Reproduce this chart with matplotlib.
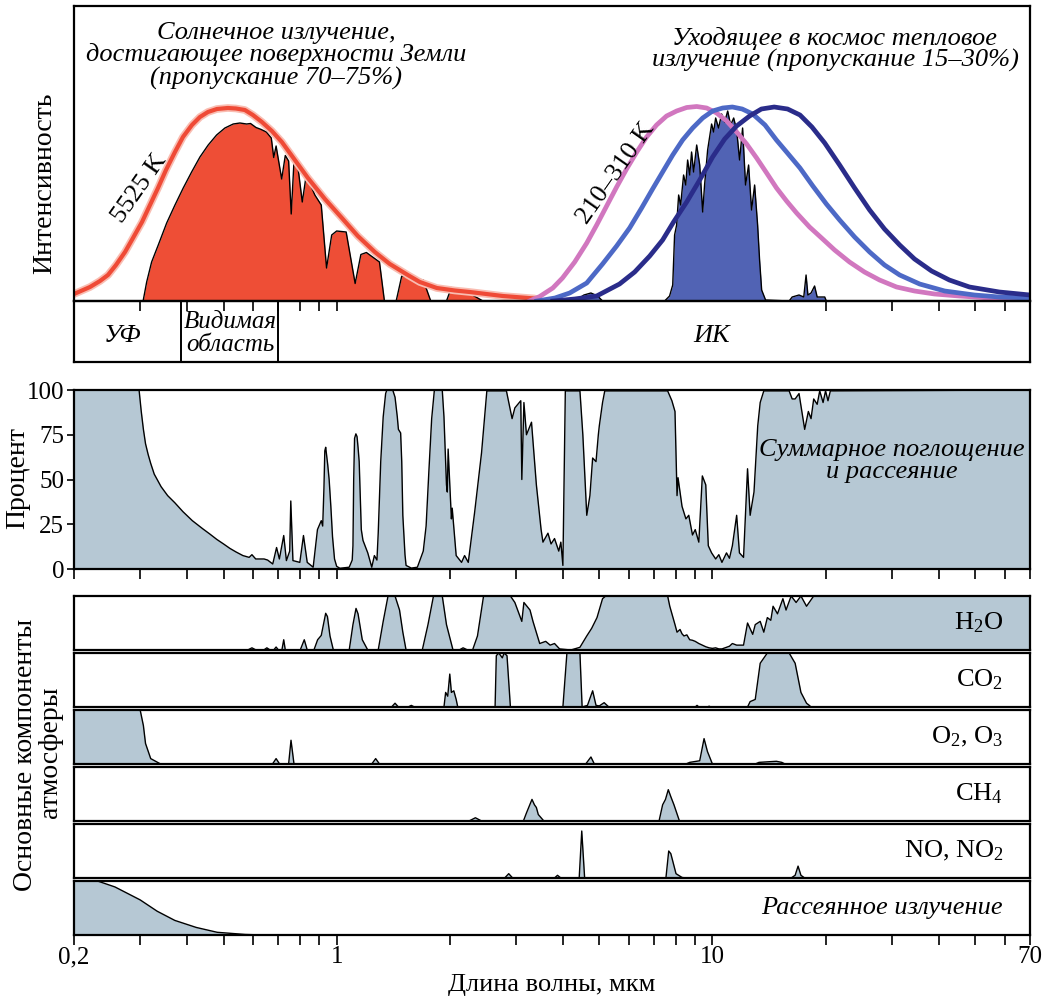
import numpy as np
import matplotlib
matplotlib.use('Agg')
import matplotlib.pyplot as plt

plt.rcParams['font.family'] = ['Liberation Serif', 'DejaVu Serif']
plt.rcParams['mathtext.fontset'] = 'custom'
plt.rcParams['mathtext.rm'] = 'Liberation Serif'
plt.rcParams['mathtext.it'] = 'Liberation Serif:italic'

# ---- top panel: intensity, arbitrary units ----
sun_bb_wl = [0.2, 0.2206, 0.2345, 0.2463, 0.2587, 0.2734, 0.2871, 0.3034, 0.3186, 0.3346,
             0.3514, 0.3713, 0.3899, 0.412, 0.4327, 0.4544, 0.4801, 0.5135, 0.5393, 0.5698,
             0.5985, 0.6325, 0.6723, 0.7147, 0.7741, 0.8385, 0.9305, 1.0326, 1.1385, 1.2634,
             1.3849, 1.5462, 1.6643, 1.8469, 2.062, 2.261, 2.767, 3.366]
sun_bb_val = [7, 14, 20, 26, 36, 49, 63, 79, 96, 113,
              131, 149, 164, 176, 184, 189, 192, 193, 192.5, 191,
              186, 179, 170, 159, 141, 123, 102, 83, 65, 49,
              37, 26, 19, 13, 10.5, 9, 5, 2.5]

sun_wl = [0.3058, 0.3122, 0.3218, 0.3352, 0.3529, 0.3713, 0.3906, 0.4112, 0.4327, 0.4552,
          0.4792, 0.5042, 0.5306, 0.5528, 0.5758, 0.59, 0.61, 0.63, 0.65, 0.67,
          0.68, 0.69, 0.714, 0.73, 0.745, 0.757, 0.77, 0.79, 0.81, 0.83,
          0.875, 0.91, 0.94, 0.97, 1.0, 1.06, 1.12, 1.16, 1.20, 1.30,
          1.34, 1.44, 1.46, 1.49, 1.6, 1.70, 1.78, 1.96, 2.02, 2.2, 2.45]
sun_val = [1, 19, 39, 56, 78, 96, 113, 129, 144, 156,
           166, 173, 177, 178, 177, 177.5, 173.5, 171.5, 169, 163,
           143.5, 155, 122, 145.5, 140, 87, 140, 132, 99, 126,
           106, 96, 33, 66, 70, 69, 17.5, 46.5, 48.5, 39,
           0, 0, 10, 25, 23, 21, 0, 0, 13.5, 10, 0]

hot_wl = [3.26, 3.47, 3.76, 3.99, 4.30, 4.63, 4.92, 5.23, 5.56, 5.91,
          6.29, 6.68, 7.10, 7.55, 8.03, 8.54, 9.08, 9.65, 10.26, 10.91,
          11.6, 12.33, 13.11, 13.94, 14.81, 15.75, 16.75, 18.13, 19.52, 21.14,
          23.16, 25.38, 27.84, 30.9, 34.5, 39.0, 45.4, 54.6, 70]
hot_val = [0, 4.5, 13, 23, 39, 58, 76, 95, 114, 132,
           149, 164, 176, 185, 190, 193.5, 194.5, 193, 188, 180,
           169, 157, 143, 128, 113, 100, 88, 74, 63, 51,
           39, 29, 21, 14, 10, 7, 5, 3, 2]

mid_wl = [3.41, 3.81, 4.17, 4.63, 5.10, 5.56, 6.02, 6.48, 6.93, 7.37,
          7.84, 8.33, 8.86, 9.42, 10.01, 10.65, 11.3, 12.0, 12.8, 13.8,
          14.8, 15.75, 17.1, 18.5, 20.1, 21.8, 23.9, 26.2, 28.7, 31.5,
          35.6, 41.5, 49.8, 58.0, 70]
mid_val = [0, 3, 8, 18, 37, 55, 73, 93, 112, 129,
           146, 161, 173, 183, 190, 193, 194, 192, 187, 176,
           161, 149, 133, 115, 97, 81, 64, 49, 36, 26,
           17, 10, 6, 4, 3]

cold_wl = [3.76, 4.30, 4.92, 5.66, 6.21, 6.81, 7.37, 7.88, 8.54, 9.25,
           10.01, 10.78, 11.6, 12.56, 13.5, 14.6, 15.85, 17.1, 18.4, 19.9,
           21.8, 23.9, 26.2, 28.7, 31.5, 34.5, 38.3, 42.7, 48.3, 58.0, 70]
cold_val = [0, 2, 5, 17, 29, 45, 61, 79, 99, 121,
            144, 162, 175, 185, 192, 194, 192, 186, 174, 158,
            136, 113, 91, 72, 56, 42, 30, 21, 14, 9, 6]

out_wl = [4.3, 4.55, 4.75, 4.95, 5.1, 7.46, 7.69, 7.84, 7.93, 8.03,
          8.13, 8.23, 8.38, 8.49, 8.59, 8.70, 8.80, 8.91, 9.08, 9.25,
          9.42, 9.53, 9.71, 9.95, 10.07, 10.20, 10.38, 10.58, 10.78, 10.98,
          11.18, 11.39, 11.6, 11.81, 12.03, 12.25, 12.48, 12.71, 12.95, 13.19,
          13.35, 13.52, 13.85, 16.0, 16.3, 17.0, 17.5, 17.75, 17.95, 18.3,
          18.7, 19.0, 19.9, 20.1]
out_val = [0, 6, 8, 5, 0, 0, 5, 16, 66, 76,
           106, 96, 126, 116, 141, 126, 149, 129, 156, 136,
           89, 116, 151, 177, 169, 183, 173, 187, 179, 190,
           176, 183, 171, 141, 173, 116, 136, 91, 116, 76,
           41, 11, 1, 0, 4, 6, 4, 26, 6, 8,
           15, 4, 4, 0]

# ---- total absorption and scattering, % ----
tot_wl = [0.2, 0.298, 0.302, 0.306, 0.31, 0.315, 0.32, 0.327, 0.335, 0.341,
          0.355, 0.371, 0.39, 0.413, 0.44, 0.46, 0.48, 0.50, 0.52, 0.54,
          0.563, 0.585, 0.595, 0.609, 0.641, 0.655, 0.676, 0.692, 0.704, 0.723,
          0.735, 0.75, 0.755, 0.765, 0.798, 0.816, 0.835, 0.866, 0.889, 0.91,
          0.918, 0.925, 0.93, 0.935, 0.94, 0.947, 0.955, 0.965, 0.975, 0.987,
          1.0, 1.02, 1.08, 1.10, 1.105, 1.11, 1.116, 1.125, 1.133, 1.14,
          1.148, 1.155, 1.163, 1.175, 1.21, 1.24, 1.26, 1.28, 1.29, 1.31,
          1.33, 1.35, 1.36, 1.41, 1.43, 1.45, 1.46, 1.48, 1.49, 1.50,
          1.52, 1.53, 1.58, 1.64, 1.70, 1.73, 1.76, 1.79, 1.82, 1.91,
          1.93, 1.96, 1.97, 1.98, 2.02, 2.03, 2.08, 2.15, 2.19, 2.24,
          2.33, 2.43, 2.51, 2.83, 2.93, 2.98, 3.09, 3.11, 3.15, 3.2,
          3.3, 3.4, 3.5, 3.54, 3.65, 3.72, 3.8, 3.9, 3.95, 4.0,
          4.06, 4.44, 4.52, 4.63, 4.72, 4.8, 4.9, 4.97, 5.0, 5.1,
          5.17, 7.6, 7.8, 7.95, 8.05, 8.1, 8.3, 8.5, 8.65, 8.85,
          9.0, 9.2, 9.4, 9.6, 9.75, 9.95, 10.2, 10.4, 10.6, 10.9,
          11.1, 11.3, 11.6, 11.8, 12.1, 12.4, 12.6, 12.9, 13.2, 13.4,
          13.7, 16.0, 16.3, 16.6, 17.0, 17.6, 18.0, 18.3, 18.6, 19.0,
          19.3, 19.7, 20.0, 20.3, 20.6, 70]
tot_val = [100, 100, 88, 78, 70, 64, 59, 53, 49, 46,
           41, 37, 32, 27, 22.5, 19.5, 16.5, 14, 11.5, 9.5,
           7.5, 6.5, 8, 5.6, 5.6, 5, 2.8, 12, 5.6, 18.7,
           4.7, 10, 38, 4.7, 3.7, 18.7, 3.7, 1, 22, 27,
           24, 45, 66, 68, 64, 58, 50, 35, 18, 5.6,
           1.5, 0.4, 1, 5, 13, 50, 73, 75.5, 74, 68,
           60, 42, 22, 16, 9, 1, 7.5, 5, 20, 60,
           85, 98, 100, 100, 96, 85, 78, 76, 60, 30,
           8, 2, 0.5, 1, 10, 24, 55, 84, 100, 100,
           85, 47, 43, 67, 28, 34, 7.5, 3.7, 7.5, 3.7,
           32, 65, 99.5, 99.5, 84, 90, 94, 50, 93, 75,
           82, 47, 22, 15, 20, 14, 17, 10, 15, 2,
           99.5, 99.5, 75, 30, 41, 62, 60, 75, 80, 93,
           99.5, 99.5, 94, 88, 41, 51, 35, 28, 30, 19,
           22, 15, 52, 47, 13, 9, 5.6, 8, 3.7, 9,
           6, 13, 30, 9, 6.5, 56, 30, 43, 80, 93,
           99.5, 99.5, 95, 95, 98, 78, 88, 84, 95, 92,
           99.5, 93, 99.5, 94, 99.5, 100]

# ---- individual gases, % ----
h2o_wl = [0.2, 0.58, 0.595, 0.61, 0.64, 0.652, 0.665, 0.68, 0.69, 0.70,
          0.715, 0.723, 0.73, 0.80, 0.82, 0.835, 0.87, 0.89, 0.91, 0.935,
          0.945, 0.96, 0.98, 1.08, 1.105, 1.126, 1.14, 1.17, 1.21, 1.29,
          1.33, 1.37, 1.43, 1.47, 1.50, 1.53, 1.69, 1.75, 1.81, 1.91,
          1.96, 2.04, 2.12, 2.17, 2.23, 2.3, 2.37, 2.46, 2.9, 2.98,
          3.11, 3.15, 3.27, 3.33, 3.47, 3.6, 3.7, 3.8, 3.92, 4.2,
          4.44, 4.63, 4.77, 4.93, 5.1, 5.2, 7.6, 7.7, 7.95, 8.05,
          8.2, 8.3, 8.4, 8.55, 8.7, 8.85, 9.0, 9.2, 9.4, 9.6,
          9.8, 10.0, 10.2, 10.4, 10.6, 10.9, 11.1, 11.3, 11.6, 12.1,
          12.4, 12.8, 13.0, 13.4, 13.7, 14.0, 14.3, 14.5, 14.9, 15.4,
          15.7, 16.2, 16.7, 17.2, 17.8, 18.6, 70]
h2o_val = [0, 0, 4, 0, 0, 4, 0, 0, 5.5, 0,
           0, 19, 0, 0, 19, 0, 0, 19, 27, 68,
           62, 26, 0, 0, 47, 77, 67, 19, 0, 0,
           53, 100, 100, 74, 33, 0, 0, 47, 100, 100,
           47, 0, 0, 4, 0, 0, 26, 100, 100, 88,
           53, 88, 74, 53, 12, 16, 9, 12, 2, 0,
           5, 26, 40, 60, 95, 100, 100, 81, 47, 33,
           38, 30, 26, 28, 19, 18, 16, 12, 9, 6,
           4, 3, 4, 2, 2, 5, 7, 12, 9, 9,
           50, 29, 47, 53, 33, 60, 55, 81, 67, 95,
           74, 100, 88, 100, 81, 100, 100]

co2_wl = [0.2, 1.40, 1.43, 1.46, 1.55, 1.58, 1.61, 1.93, 1.95, 1.975,
          2.0, 2.02, 2.05, 2.08, 2.1, 2.64, 2.66, 2.7, 2.76, 2.79,
          2.84, 2.9, 4.0, 4.1, 4.44, 4.5, 4.65, 4.8, 4.9, 5.0,
          5.15, 5.3, 9.0, 9.1, 9.2, 9.7, 9.8, 9.9, 12.4, 12.6,
          13.0, 13.4, 14.0, 16.0, 16.6, 17.2, 17.8, 18.1, 18.3, 70]
co2_val = [0, 0, 7, 0, 0, 3, 0, 0, 27, 20,
           61, 27, 30, 14, 0, 0, 95, 100, 91, 100,
           95, 0, 0, 100, 100, 0, 3, 30, 3, 2,
           8, 0, 0, 3, 0, 0, 1.5, 0, 0, 10,
           14, 81, 100, 100, 81, 27, 7, 3, 0, 0]

o3_wl = [0.2, 0.3, 0.306, 0.31, 0.32, 0.34, 0.675, 0.69, 0.705, 0.745,
         0.756, 0.77, 1.24, 1.27, 1.30, 4.6, 4.75, 4.85, 8.5, 8.7,
         9.25, 9.5, 9.7, 10.0, 13.0, 13.3, 14.0, 14.8, 15.3, 15.6, 70]
o3_val = [100, 100, 71, 38, 10, 0, 0, 10, 0, 0,
          44, 0, 0, 10, 0, 0, 13, 0, 0, 3,
          6, 47, 23, 0, 0, 3, 4, 5, 3, 0, 0]

ch4_wl = [0.2, 2.25, 2.34, 2.43, 3.14, 3.2, 3.31, 3.36, 3.4, 3.44,
          3.56, 7.21, 7.37, 7.5, 7.63, 7.75, 7.9, 8.17, 70]
ch4_val = [0, 0, 6, 0, 0, 15, 40, 30, 25, 12,
           0, 0, 30, 40, 58, 45, 30, 0, 0]

no_wl = [0.2, 2.8, 2.87, 2.94, 3.8, 3.87, 3.95, 4.42, 4.49, 4.57,
         7.52, 7.65, 7.75, 8.0, 8.3, 8.5, 16.2, 16.6, 16.9, 17.2, 17.6, 70]
no_val = [0, 0, 8, 0, 0, 5, 0, 0, 87, 0,
          0, 50, 45, 8, 1, 0, 0, 5, 22, 5, 0, 0]

scat_wl = [0.2, 0.231, 0.257, 0.3, 0.333, 0.371, 0.423, 0.481, 0.571, 0.636, 70]
scat_val = [100, 100, 89, 65, 44, 27, 14, 5, 1, 0, 0]

panel_names = [r'H$_2$O', r'CO$_2$', r'O$_2$, O$_3$', r'CH$_4$', r'NO, NO$_2$']

tick_major = [0.2, 1, 10, 70]
tick_labels = ['0,2', '1', '10', '70']
tick_minor = [0.3, 0.4, 0.5, 0.6, 0.7, 0.8, 0.9, 2, 3, 4, 5, 6, 7, 8, 9,
              20, 30, 40, 50, 60]
top_ticks = [0.3, 0.4, 0.5, 0.6, 0.7, 0.8, 0.9, 1, 20, 30, 40, 50, 60]

band_edges = [0.385, 0.70]

# ---- layout ----
W, H = 1053, 997
fig = plt.figure(figsize=(W / 100, H / 100), dpi=100)
GREY = '#b6c8d4'
FRAME = 1.6
FS = 19


def box(x0, y0, x1, y1):
    ax = fig.add_axes([x0 / W, 1 - y1 / H, (x1 - x0) / W, (y1 - y0) / H])
    ax.set_xscale('log')
    ax.set_xlim(0.2, 70)
    ax.minorticks_off()
    for s in ax.spines.values():
        s.set_linewidth(FRAME)
    ax.set_yticks([])
    return ax


def ftext(x, y, s, **kw):
    fig.text(x / W, 1 - y / H, s, **kw)


# top: spectra
ax = box(74, 6, 1030, 301)
ax.set_ylim(0, 295)
ax.fill_between(sun_wl, sun_val, color='#ee4e36', lw=0)
ax.plot(sun_wl, sun_val, color='k', lw=1.0)
ax.fill_between(out_wl, out_val, color='#5163b4', lw=0)
ax.plot(out_wl, out_val, color='k', lw=1.0)
ax.plot(sun_bb_wl, sun_bb_val, color='#f9bdb2', lw=5.5, solid_capstyle='round')
ax.plot(sun_bb_wl, sun_bb_val, color='#ef4a36', lw=3.0, solid_capstyle='round')
ax.plot(hot_wl, hot_val, color='#d177bf', lw=3.4)
ax.plot(mid_wl, mid_val, color='#4d69c6', lw=3.4)
ax.plot(cold_wl, cold_val, color='#2a2c8a', lw=3.4)
ax.set_xticks(top_ticks)
ax.set_xticklabels([])
ax.tick_params(axis='x', direction='out', length=7, width=1.2)

# spectral bands strip
axb = box(74, 301, 1030, 362)
axb.patch.set_alpha(0)
axb.set_xticks([])
axb.set_ylim(0, 1)
for e in band_edges:
    axb.plot([e, e], [0, 1], color='k', lw=1.4)

ftext(276, 33, 'Солнечное излучение,', ha='center', va='center', fontsize=FS, style='italic')
ftext(276, 55, 'достигающее поверхности Земли', ha='center', va='center', fontsize=FS, style='italic')
ftext(276, 78, '(пропускание 70–75%)', ha='center', va='center', fontsize=FS, style='italic')
ftext(835, 38, 'Уходящее в космос тепловое', ha='center', va='center', fontsize=FS, style='italic')
ftext(835, 60, 'излучение (пропускание 15–30%)', ha='center', va='center', fontsize=FS, style='italic')
ftext(140, 188, '5525 K', ha='center', va='center', fontsize=FS, rotation=55)
ftext(616, 173, '210–310 K', ha='center', va='center', fontsize=FS, rotation=55)
ftext(122, 336, 'УФ', ha='center', va='center', fontsize=FS, style='italic')
ftext(230, 322, 'Видимая', ha='center', va='center', fontsize=18, style='italic')
ftext(230, 345, 'область', ha='center', va='center', fontsize=18, style='italic')
ftext(712, 336, 'ИК', ha='center', va='center', fontsize=FS, style='italic')
ftext(45, 183, 'Интенсивность', ha='center', va='center', fontsize=FS + 1, rotation=90)

# middle: total absorption
ax = box(74, 390, 1030, 569)
ax.set_ylim(0, 100)
ax.fill_between(tot_wl, tot_val, color=GREY, lw=0)
ax.plot(tot_wl, tot_val, color='k', lw=1.0)
ax.set_xticks(tick_major + tick_minor)
ax.set_xticklabels([])
ax.set_yticks([0, 25, 50, 75, 100])
ax.set_yticklabels(['0', '25', '50', '75', '100'], fontsize=18)
ax.tick_params(axis='x', direction='out', length=7, width=1.2)
ax.tick_params(axis='y', direction='out', length=5, width=1.2, pad=2)
ftext(892, 450, 'Суммарное поглощение', ha='center', va='center', fontsize=FS, style='italic')
ftext(892, 472, 'и рассеяние', ha='center', va='center', fontsize=FS, style='italic')
ftext(18, 478, 'Процент', ha='center', va='center', fontsize=FS + 1, rotation=90)

# bottom: components
gases = [(h2o_wl, h2o_val), (co2_wl, co2_val), (o3_wl, o3_val),
         (ch4_wl, ch4_val), (no_wl, no_val), (scat_wl, scat_val)]
for i, (wl, val) in enumerate(gases):
    top = 596 + 57 * i
    ax = box(74, top, 1030, top + 54)
    ax.set_ylim(0, 100)
    ax.fill_between(wl, val, color=GREY, lw=0)
    ax.plot(wl, val, color='k', lw=1.0)
    if i < 5:
        ax.set_xticks([])
        ax.text(0.972, 0.5, panel_names[i], transform=ax.transAxes,
                ha='right', va='center', fontsize=FS)
    else:
        ax.text(0.972, 0.5, 'Рассеянное излучение', transform=ax.transAxes,
                ha='right', va='center', fontsize=FS, style='italic')
        ax.set_xticks(tick_major + tick_minor)
        ax.set_xticklabels(tick_labels + [''] * len(tick_minor), fontsize=18)
        ax.tick_params(axis='x', direction='out', length=7, width=1.2, pad=1)

ftext(26, 755, 'Основные компоненты', ha='center', va='center', fontsize=FS + 1, rotation=90)
ftext(51, 752, 'атмосферы', ha='center', va='center', fontsize=FS + 1, rotation=90)
ftext(552, 985, 'Длина волны, мкм', ha='center', va='center', fontsize=FS)

fig.savefig('out.png', dpi=100)
